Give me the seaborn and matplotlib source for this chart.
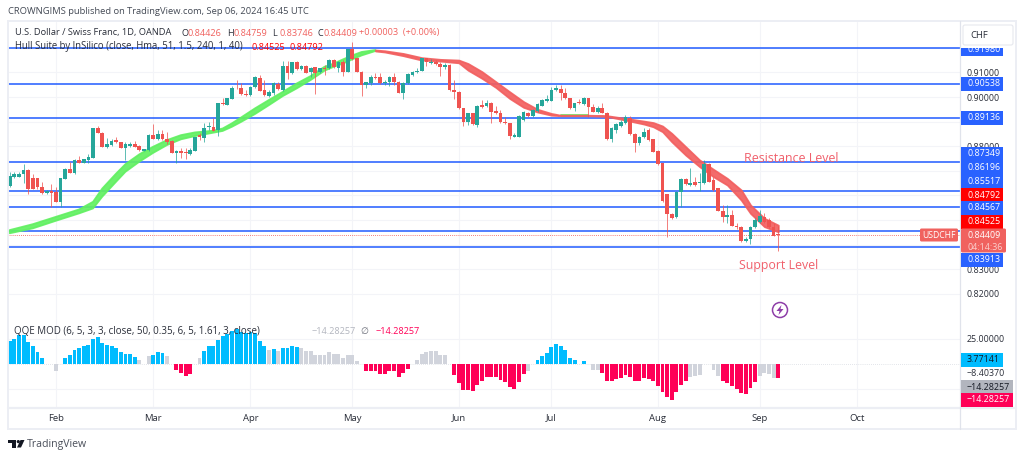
import numpy as np
import pandas as pd
import matplotlib
matplotlib.use("Agg")
import matplotlib.pyplot as plt
import seaborn as sns
from matplotlib.patches import Rectangle, Circle, Polygon, FancyBboxPatch
from matplotlib.transforms import Affine2D

W, H = 1024, 458

# USDCHF daily candles
opens = [.8638,.8676,.8676,.8687,.8703,.8669,.8672,.8635,.8608,.8618,
         .8615,.8574,.8666,.8706,.8692,.8744,.8733,.8744,.8754,.8872,
         .8855,.8795,.8805,.8825,.8819,.8794,.8801,.8809,.8801,.8782,
         .8784,.8845,.8829,.8848,.8829,.8821,.8771,.8780,.8777,.8768,
         .8782,.8845,.8832,.8879,.8879,.8866,.8977,.8967,.8992,.9038,
         .9038,.9013,.9008,.9039,.9076,.9028,.9005,.9015,.9053,.9028,
         .9127,.9096,.9141,.9114,.9127,.9103,.9120,.9100,.9119,.9116,
         .9150,.9116,.9141,.9103,.9195,.9157,.9103,.9048,.9055,.9082,
         .9080,.9055,.9059,.9082,.9062,.9017,.9055,.9089,.9103,.9107,
         .9157,.9139,.9143,.9136,.9123,.9132,.9028,.9019,.8954,.8897,
         .8933,.8886,.8967,.8963,.8974,.8943,.8933,.8899,.8893,.8838,
         .8838,.8906,.8933,.8922,.8943,.8964,.8985,.8985,.9028,.9031,
         .9015,.8994,.8954,.8981,.8971,.8994,.8960,.8937,.8954,.8936,
         .8829,.8866,.8882,.8893,.8913,.8849,.8811,.8836,.8866,.8828,
         .8781,.8730,.8604,.8524,.8511,.8615,.8667,.8642,.8653,.8649,
         .8649,.8728,.8662,.8629,.8538,.8514,.8520,.8477,.8473,.8416,
         .8421,.8470,.8493,.8514,.8500,.8473,.84426]
highs = [.8696,.8696,.8695,.8727,.8706,.8689,.8672,.8656,.8622,.8645,
         .8635,.8672,.8712,.8737,.8746,.8761,.8750,.8767,.8875,.8882,
         .8857,.8832,.8828,.8836,.8819,.8818,.8818,.8822,.8803,.8790,
         .8848,.8890,.8866,.8866,.8859,.8825,.8784,.8791,.8791,.8791,
         .8838,.8852,.8893,.8899,.8913,.8977,.8994,.8997,.9044,.9069,
         .9055,.9028,.9044,.9085,.9089,.9069,.9028,.9062,.9062,.9146,
         .9146,.9143,.9147,.9130,.9130,.9123,.9123,.9119,.9130,.9153,
         .9154,.9146,.9150,.9197,.9222,.9160,.9105,.9062,.9089,.9096,
         .9096,.9069,.9086,.9099,.9065,.9061,.9096,.9105,.9116,.9160,
         .9158,.9154,.9150,.9143,.9139,.9135,.9069,.9024,.8956,.8936,
         .8936,.8967,.8987,.8987,.8981,.8963,.8947,.8920,.8895,.8852,
         .8925,.8943,.8940,.8950,.8977,.8992,.9008,.9042,.9048,.9048,
         .9035,.8997,.8977,.8990,.9001,.8997,.8971,.8963,.8977,.8939,
         .8878,.8893,.8906,.8926,.8922,.8852,.8841,.8872,.8872,.8830,
         .8784,.8732,.8606,.8527,.8618,.8670,.8670,.8710,.8676,.8690,
         .8744,.8730,.8676,.8632,.8561,.8561,.8541,.8486,.8476,.8432,
         .8476,.8507,.8541,.8527,.8507,.8486,.84759]
lows = [.8635,.8669,.8673,.8651,.8605,.8624,.8628,.8605,.8605,.8554,
        .8572,.8554,.8665,.8692,.8689,.8730,.8730,.8730,.8754,.8852,
        .8795,.8792,.8802,.8814,.8791,.8744,.8795,.8795,.8782,.8779,
        .8782,.8829,.8825,.8825,.8809,.8771,.8730,.8754,.8750,.8765,
        .8779,.8825,.8818,.8866,.8863,.8841,.8969,.8966,.8990,.9032,
        .9008,.9004,.9005,.9036,.9023,.9005,.9001,.9008,.9028,.9025,
        .9073,.9093,.9111,.9111,.9096,.9082,.9012,.9097,.9089,.9113,
        .9117,.9103,.9086,.9100,.9150,.9100,.9005,.9035,.9048,.9073,
        .9052,.9048,.9046,.9048,.9015,.8990,.9052,.9086,.9096,.9104,
        .9127,.9136,.9131,.9086,.9112,.9025,.8991,.8951,.8883,.8887,
        .8886,.8880,.8954,.8958,.8893,.8931,.8894,.8890,.8828,.8836,
        .8836,.8903,.8920,.8917,.8940,.8962,.8981,.8982,.9025,.8987,
        .8992,.8951,.8943,.8971,.8968,.8917,.8937,.8935,.8933,.8826,
        .8818,.8852,.8879,.8890,.8847,.8777,.8805,.8832,.8822,.8775,
        .8725,.8575,.8432,.8503,.8508,.8554,.8642,.8638,.8638,.8619,
        .8646,.8653,.8619,.8535,.8493,.8489,.8474,.8462,.8412,.8412,
        .8402,.8466,.8486,.8486,.8466,.8434,.83746]
closes = [.8679,.8687,.8689,.8703,.8626,.8628,.8633,.8608,.8618,.8611,
          .8574,.8669,.8706,.8692,.8744,.8730,.8748,.8757,.8872,.8852,
          .8798,.8809,.8822,.8817,.8794,.8809,.8809,.8798,.8784,.8787,
          .8845,.8829,.8848,.8828,.8818,.8773,.8780,.8773,.8771,.8784,
          .8836,.8836,.8876,.8882,.8863,.8974,.8971,.8994,.9038,.9035,
          .9011,.9009,.9042,.9080,.9025,.9008,.9019,.9055,.9031,.9127,
          .9096,.9141,.9114,.9127,.9099,.9119,.9099,.9116,.9112,.9150,
          .9120,.9143,.9103,.9195,.9153,.9103,.9048,.9059,.9082,.9076,
          .9055,.9062,.9082,.9062,.9017,.9058,.9092,.9103,.9107,.9157,
          .9141,.9143,.9134,.9123,.9130,.9028,.9019,.8954,.8897,.8933,
          .8889,.8964,.8960,.8974,.8940,.8933,.8897,.8893,.8841,.8845,
          .8922,.8940,.8922,.8947,.8971,.8987,.8990,.9028,.9035,.9015,
          .8994,.8954,.8974,.8977,.8994,.8958,.8940,.8954,.8936,.8829,
          .8875,.8890,.8897,.8917,.8849,.8811,.8836,.8859,.8825,.8777,
          .8727,.8577,.8524,.8507,.8615,.8667,.8646,.8649,.8642,.8656,
          .8728,.8656,.8622,.8538,.8514,.8520,.8477,.8470,.8415,.8421,
          .8473,.8500,.8516,.8493,.8470,.8436,.84409]

# Hull Suite band, sampled by candle number
hull_x = [0,5,10,15,18,20,23,25,28,31,34,37,40,44,46,48,50,53,56,59,62,65,68,70,72,74,76,79,
          81,85,89,93,97,99,102,105,108,111,114,117,119,125,129,133,137,139,141,143,146,149,
          152,155,158,160,163,166]
hull_up = [.8459,.8483,.8513,.8543,.8574,.8628,.8689,.8727,.8767,.8798,.8825,.8845,.8856,.8863,
           .8872,.8893,.8917,.8954,.8988,.9021,.9055,.9085,.9123,.9136,.9153,.9169,.9183,.9191,
           .9188,.9177,.9160,.9153,.9150,.9136,.9103,.9062,.9021,.8981,.8950,.8933,.8926,.8926,
           .8924,.8913,.8902,.8896,.8882,.8852,.8798,.8744,.8706,.8669,.8622,.8561,.8507,.8479]
hull_lo = [.8446,.8466,.8497,.8527,.8547,.8595,.8656,.8696,.8737,.8773,.8805,.8828,.8841,.8855,
           .8862,.8879,.8899,.8931,.8967,.9004,.9035,.9069,.9107,.9123,.9136,.9153,.9169,.9187,
           .9183,.9168,.9150,.9146,.9139,.9109,.9076,.9039,.8994,.8958,.8939,.8926,.8924,.8924,
           .8921,.8906,.8890,.8879,.8859,.8818,.8764,.8717,.8676,.8642,.8581,.8527,.8473,.8452]
hull_green = [x <= 79 or 119 <= x <= 125 for x in hull_x]
hull_red = [x >= 79 and (x <= 119 or x >= 125) for x in hull_x]

# horizontal levels drawn by the author
levels = [.9198,.90538,.89136,.87349,.86196,.85517,.84567,.83913]

# QQE MOD histogram
qqe_vals = [22.7,25,29,29,22,18,12,6,0,0,-6.6,0,6.3,8.7,13.7,16.3,17.7,19.3,25.3,27,
            21.3,18.7,17.7,16,12,9.7,9.7,7,3.7,0,7.7,9.3,12,11,7.7,0,-5.7,-9,-12.3,-9.7,
            0,5.7,12.7,18.3,18.3,24.3,28.3,30,32.7,35.3,31.7,31,31.7,31,22.7,18.3,13.7,15,12.7,16.3,
            16.3,18.3,16.7,15.7,13.3,12.7,9.3,9.3,9,11.7,9.7,10,6,9.3,9,3,0,-7.3,-7.3,-7.3,
            -9.7,-9.7,-7.3,-7.3,-13,-9,-5,0,3.7,10,12,13.3,12.7,9.3,8.7,0,-11.3,-19,-25.7,-25.7,
            -27.3,-20.7,-16.7,-13,-13,-13,-15.7,-18.3,-23.3,-24.7,-17.7,-9.7,-6.7,0,3.7,8.3,10.7,16.7,20.3,18.3,
            14.3,6.3,3.7,0,3.3,0,-5.7,-6.3,-9,-17.3,-17,-15,-14,-10.7,-13,-17,-17,-14,-14.7,-17.3,
            -22.3,-28,-33,-36.3,-28.3,-20.7,-16.7,-13.3,-12.3,-10.7,0,0,-5.7,-12.3,-16.7,-19,-22.3,-25,-29,-29.7,
            -24,-17.7,-11.7,-9,-10,-14,-14.28]
qqe_kinds = list("b"*8 + "g"*3 + "g" + "b"*16 + "g"*2 + "g" + "b"*3 + "g"*2 + "r"*4 + "g"*2
                 + "b"*14 + "g" + "b" + "g" + "b"*4 + "g"*14 + "r"*10 + "g"*8 + "g"
                 + "r"*16 + "g"*2 + "b"*9 + "g" + "b" + "g"*3 + "r"*19 + "g"*5 + "g"*2
                 + "r"*8 + "g"*4 + "r")

# axis labels
price_ticks = [.82,.83,.84,.85,.86,.87,.88,.89,.90,.91,.92]
price_tick_labels = ["0.82000","0.83000","","","","","0.88000","","0.90000","0.91000",""]
month_names = {2:"Feb",3:"Mar",4:"Apr",5:"May",6:"Jun",7:"Jul",8:"Aug",9:"Sep",10:"Oct"}

# right hand value tags: text, centre y, right edge, box colour, text colour
tags = [("0.90538",84,1003,"#2962ff","white"),("0.89136",118,1003,"#2962ff","white"),
        ("0.87349",154,1003,"#2962ff","white"),("0.86196",168,1003,"#2962ff","white"),
        ("0.85517",181,1003,"#2962ff","white"),("0.84792",195,1003,"#ff0000","white"),
        ("0.84567",208,1003,"#2962ff","white"),("0.84525",222,1003,"#ff0000","white"),
        ("0.83913",260,1003,"#2962ff","white"),
        ("3.77141",360,1003,"#00bcff","#131722"),
        ("\u221214.28257",387,1013,"#b2b5be","#131722"),
        ("\u221214.28257",400,1013,"#ff0057","white")]

sns.set_style("white")
plt.rcParams["font.family"] = ["Open Sans", "DejaVu Sans"]

GRID = "#f3f4f8"
FRAME = "#eceef4"
TXT = "#2a2e39"
UP, DOWN = "#26a69a", "#ef5350"

fig = plt.figure(figsize=(W / 100, H / 100), dpi=100, facecolor="white")
pix = Affine2D().scale(1, -1).translate(0, H)  # image pixels, y down

ax = fig.add_axes([8 / W, 1 - 318 / H, 952 / W, 296 / H])
ax2 = fig.add_axes([8 / W, 1 - 408 / H, 952 / W, 90 / H])

n = len(opens)
x = np.arange(n)
days = pd.bdate_range("2024-01-18", "2024-10-01")
first_days = pd.Series(np.arange(len(days)), index=days).groupby([days.year, days.month]).first()
month_pos = [int(v) for (_, m), v in first_days.items() if m in month_names]
month_lab = [month_names[m] for (_, m), v in first_days.items() if m in month_names]

# price pane
for lv in levels:
    ax.axhline(lv, color="#2962ff", lw=1.15, zorder=2)
ax.axhline(closes[-1], color=DOWN, lw=0.6, ls=(0, (1, 1.5)), zorder=2)

ax.fill_between(hull_x, hull_lo, hull_up, where=hull_green, facecolor="#62f062", edgecolor="#62f062",
                alpha=0.92, lw=1.3, zorder=3)
ax.fill_between(hull_x, hull_lo, hull_up, where=hull_red, facecolor="#f25f5f", edgecolor="#f25f5f",
                alpha=0.92, lw=1.3, zorder=3)

candle_col = [UP if c >= o else DOWN for o, c in zip(opens, closes)]
ax.vlines(x, lows, highs, colors=candle_col, lw=0.7, alpha=0.75, zorder=4)
ax.bar(x, np.abs(np.array(closes) - np.array(opens)), bottom=np.minimum(opens, closes),
       width=0.8, color=candle_col, lw=0, zorder=5)

ax.set_xlim(-0.37, 205.25)
ax.set_ylim(.90 - 221 / 2460, .90 + 75 / 2460)
ax.set_xticks(month_pos)
ax.set_xticklabels([])
ax.set_yticks(price_ticks)
ax.set_yticklabels(price_tick_labels)
ax.yaxis.tick_right()
ax.tick_params(axis="y", length=0, pad=5, labelsize=6.4, labelcolor=TXT)
ax.tick_params(axis="x", length=0)
ax.grid(True, color=GRID, lw=0.8)
ax.set_axisbelow(True)
sns.despine(ax=ax, left=True, bottom=True)

# QQE pane
qqe = pd.DataFrame({"x": x, "val": qqe_vals, "kind": qqe_kinds})
sns.barplot(data=qqe, x="x", y="val", hue="kind", native_scale=True, dodge=False, width=0.84, saturation=1,
            palette={"b": "#00bcff", "g": "#d1d4dc", "r": "#ff0057"}, errorbar=None,
            legend=False, linewidth=0, ax=ax2, zorder=3)
ax2.axhline(0, color="#c8ccd6", lw=0.5, ls=(0, (1, 2)), zorder=1)
ax2.set_xlim(-0.37, 205.25)
ax2.set_ylim(-44, 46)
ax2.set_xlabel("")
ax2.set_ylabel("")
ax2.set_xticks(month_pos)
ax2.set_xticklabels(month_lab, fontsize=6.8, color=TXT, fontweight="medium")
ax2.set_yticks([-25, 25])
ax2.set_yticklabels(["", "25.00000"])
ax2.yaxis.tick_right()
ax2.tick_params(axis="y", length=0, pad=5, labelsize=6.4, labelcolor=TXT)
ax2.tick_params(axis="x", length=0, pad=4)
ax2.grid(True, color=GRID, lw=0.8)
ax2.set_axisbelow(True)
sns.despine(ax=ax2, left=True, bottom=True)

# frame lines
fig.add_artist(Rectangle((8, 21), 1008, 408, transform=pix, fill=False, ec=FRAME, lw=1.4, zorder=1))
fig.add_artist(plt.Line2D([8, 1016], [408, 408], transform=pix, color=FRAME, lw=1.6, zorder=1))
fig.add_artist(plt.Line2D([960, 960], [21, 429], transform=pix, color="#e0e3eb", lw=0.9, zorder=1))


def label(px, py, s, color=TXT, size=6.4, **kw):
    kw.setdefault("va", "center")
    return fig.text(px, py, s, transform=pix, color=color, fontsize=size, **kw)


# value tags on the right
for s, yy, x1, col, tcol in tags:
    fig.add_artist(Rectangle((961, yy - 6.7), x1 - 961, 13.4, transform=pix, color=col, lw=0, zorder=2))
    label(967, yy, s, tcol, zorder=4)

# the top level tag is cut off by the pane edge
fig.add_artist(Rectangle((961, 48), 42, 7.5, transform=pix, color="#2962ff", lw=0, zorder=2))
top_tag = label(967, 49, "0.91980", "white", zorder=4)
top_tag.set_clip_path(Rectangle((961, 48), 42, 7.5, transform=pix))

# last price tag
fig.add_artist(FancyBboxPatch((961, 228.5), 45, 24, boxstyle="round,pad=0,rounding_size=1.5",
                              transform=pix, color="#f0625f", lw=0, zorder=2))
label(967, 235, "0.84409", "white", zorder=4)
label(967, 247, "04:14:36", "#fbd0ce", zorder=4)
fig.add_artist(FancyBboxPatch((920, 228.5), 38, 13, boxstyle="round,pad=0,rounding_size=1.5",
                              transform=pix, color="#f0625f", lw=0, zorder=2))
label(939, 235, "USDCHF", "white", size=6.2, ha="center", zorder=4)

# plain tag text and currency button
label(967, 374, "\u22128.40370")
fig.add_artist(FancyBboxPatch((963, 25), 50, 20, boxstyle="round,pad=0,rounding_size=2", transform=pix,
                              fc="white", ec="#e6e8ee", lw=0.8, zorder=2))
label(970, 35, "CHF", size=6.8, zorder=4)

# header lines
label(8, 12, "CROWNGIMS published on TradingView.com, Sep 06, 2024 16:45 UTC", "#444a55", size=6.75)
label(15, 33, "U.S. Dollar / Swiss Franc, 1D, OANDA", size=6.7)
for px_, head, val in [(181, "O", "0.84426"), (227, "H", "0.84759"), (272, "L", "0.83746"), (317, "C", "0.84409")]:
    label(px_, 33, head, size=6.6)
    label(px_ + 7, 33, val, "#f0625f", size=6.6)
label(359, 33, "+0.00003  (+0.00%)", "#f0625f", size=6.6)
label(15, 47, "Hull Suite by InSilico (close, Hma, 51, 1.5, 240, 1, 40)", size=6.85)
label(252, 47, "0.84525", "#ff0000", size=6.6)
label(290, 47, "0.84792", "#ff0000", size=6.6)

label(14, 332, "QQE MOD (6, 5, 3, 3, close, 50, 0.35, 6, 5, 1.61, 3, close)", size=7.0)
label(312, 332, "\u221214.28257", "#b2b5be", size=6.6)
label(364, 332, "\u2205", "#6a6d78", size=6.6, ha="center")
label(376, 332, "\u221214.28257", "#ff0057", size=6.6)

# hand written annotations
label(744, 158, "Resistance Level", "#f0606c", size=8.9)
label(739, 266, "Support Level", "#f0606c", size=8.9)

# alert icon
fig.add_artist(Circle((780, 310), 7.5, transform=pix, fill=False, ec="#8e3ea8", lw=1.1, zorder=3))
fig.add_artist(Polygon([(781.5, 305), (776.5, 311), (779.5, 311), (778.5, 315), (783.5, 309), (780.5, 309)],
                       transform=pix, color="#8e3ea8", lw=0, zorder=3))

# TradingView logo
logo = "#131722"
fig.add_artist(Polygon([(8, 440), (16, 440), (16, 447.5), (12, 447.5), (12, 443), (8, 443)], transform=pix, color=logo, lw=0))
fig.add_artist(Circle((18.3, 441.6), 1.6, transform=pix, color=logo, lw=0))
fig.add_artist(Polygon([(20.5, 440), (24.5, 440), (21, 447.5), (17, 447.5)], transform=pix, color=logo, lw=0))
label(27, 444, "TradingView", "#4a4f5a", size=7.6)

fig.savefig("out.png", dpi=100)
